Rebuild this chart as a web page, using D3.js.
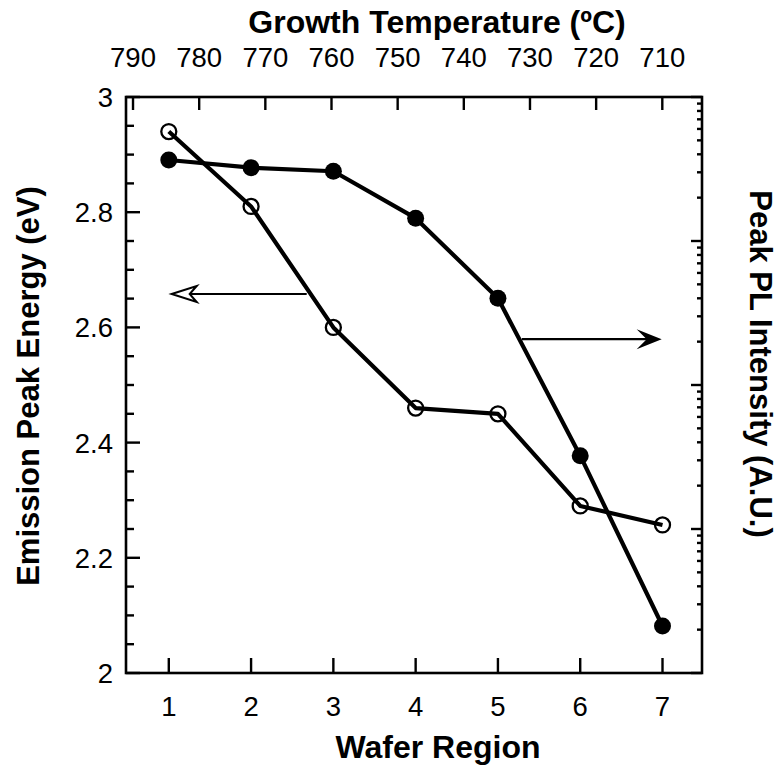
<!DOCTYPE html>
<html>
<head>
<meta charset="utf-8">
<script src="https://cdn.jsdelivr.net/npm/d3@7"></script>
<style>
  html, body { margin: 0; padding: 0; background: #fff; }
  text { font-family: "Liberation Sans", Arial, Helvetica, sans-serif; fill: #000; }
</style>
</head>
<body>
<svg id="chart" width="784" height="775"></svg>
<script>
// ---- data ----
const regions = [1, 2, 3, 4, 5, 6, 7];
const emissionEnergy = [2.94, 2.81, 2.60, 2.46, 2.45, 2.29, 2.257];     // eV (left axis, open circles)
const plIntensity = [3650, 3230, 3050, 1440, 400, 32.3, 2.12];          // A.U. (right axis, log, filled)
const regionTicks = [1, 2, 3, 4, 5, 6, 7];
const tempTicks = [790, 780, 770, 760, 750, 740, 730, 720, 710];
const energyTicks = [2, 2.2, 2.4, 2.6, 2.8, 3];
// annotation arrows in data units
const leftArrow = { from: 2.676, to: 1.035, energy: 2.658 };
const rightArrow = { from: 5.29, to: 6.99, intensity: 208 };

// ---- layout ----
const svg = d3.select("#chart");
const m = { left: 126, top: 97, right: 82, bottom: 102 };
const W = 784 - m.left - m.right;  // 576
const H = 775 - m.top - m.bottom;  // 576

const x = d3.scaleLinear().domain([0.48, 7.48]).range([m.left, m.left + W]);
const xTop = d3.scaleLinear().domain([791.06, 704.0]).range([m.left, m.left + W]);
const yL = d3.scaleLinear().domain([2, 3]).range([m.top + H, m.top]);
const yR = d3.scaleLog().domain([1, 10000]).range([m.top + H, m.top]);

const tickFont = 27.5;
const titleFont = 32;

const g = svg.append("g");

// ---- ticks ----
const tickStroke = 2.4;
// bottom
g.selectAll(".bt").data(regionTicks).enter().append("line")
  .attr("x1", d => x(d)).attr("x2", d => x(d))
  .attr("y1", m.top + H).attr("y2", m.top + H - 15)
  .attr("stroke", "#000").attr("stroke-width", tickStroke);
g.selectAll(".btl").data(regionTicks).enter().append("text")
  .attr("x", d => x(d)).attr("y", m.top + H + 43)
  .attr("text-anchor", "middle").attr("font-size", tickFont)
  .text(d => d);
// top
g.selectAll(".tt").data(tempTicks).enter().append("line")
  .attr("x1", d => xTop(d)).attr("x2", d => xTop(d))
  .attr("y1", m.top).attr("y2", m.top + 13)
  .attr("stroke", "#000").attr("stroke-width", tickStroke);
g.selectAll(".ttl").data(tempTicks).enter().append("text")
  .attr("x", d => xTop(d)).attr("y", m.top - 30)
  .attr("text-anchor", "middle").attr("font-size", tickFont)
  .text(d => d);
// left: minor every 0.05, major every 0.2
const leftMinor = d3.range(0, 21).map(i => 2 + i * 0.05);
g.selectAll(".lt").data(leftMinor).enter().append("line")
  .attr("x1", m.left).attr("x2", (d, i) => m.left + (i % 4 === 0 ? 14 : 8))
  .attr("y1", d => yL(d)).attr("y2", d => yL(d))
  .attr("stroke", "#000").attr("stroke-width", tickStroke);
g.selectAll(".ltl").data(energyTicks).enter().append("text")
  .attr("x", m.left - 13).attr("y", d => yL(d)).attr("dy", "0.36em")
  .attr("text-anchor", "end").attr("font-size", tickFont)
  .text(d => d3.format("~g")(d));
// right: log ticks
const rightTicks = [];
for (let e = 0; e < 4; e++) for (let k = 1; k <= 9; k++) rightTicks.push({ v: k * Math.pow(10, e), major: k === 1 });
rightTicks.push({ v: 10000, major: true });
g.selectAll(".rt").data(rightTicks).enter().append("line")
  .attr("x1", m.left + W).attr("x2", d => m.left + W - (d.major ? 11 : 5))
  .attr("y1", d => yR(d.v)).attr("y2", d => yR(d.v))
  .attr("stroke", "#000").attr("stroke-width", tickStroke);

// ---- frame ----
g.append("rect").attr("x", m.left).attr("y", m.top).attr("width", W).attr("height", H)
  .attr("fill", "none").attr("stroke", "#000").attr("stroke-width", 2.6);

// ---- data lines ----
const lineE = d3.line().x(d => x(d.r)).y(d => yL(d.v));
const lineI = d3.line().x(d => x(d.r)).y(d => yR(d.v));
const eData = regions.map((r, i) => ({ r, v: emissionEnergy[i] }));
const iData = regions.map((r, i) => ({ r, v: plIntensity[i] }));

g.append("path").datum(eData).attr("d", lineE)
  .attr("fill", "none").attr("stroke", "#000").attr("stroke-width", 4.2).attr("stroke-linejoin", "round");
g.append("path").datum(iData).attr("d", lineI)
  .attr("fill", "none").attr("stroke", "#000").attr("stroke-width", 4.2).attr("stroke-linejoin", "round");

g.selectAll(".oc").data(eData).enter().append("circle")
  .attr("cx", d => x(d.r)).attr("cy", d => yL(d.v)).attr("r", 7.5)
  .attr("fill", "none").attr("stroke", "#000").attr("stroke-width", 2.3);
g.selectAll(".fc").data(iData).enter().append("circle")
  .attr("cx", d => x(d.r)).attr("cy", d => yR(d.v)).attr("r", 8.5)
  .attr("fill", "#000");

// ---- arrows ----
{
  const ay = yL(leftArrow.energy), x0 = x(leftArrow.from), x1 = x(leftArrow.to);
  g.append("line").attr("x1", x0).attr("x2", x1 + 18).attr("y1", ay).attr("y2", ay)
    .attr("stroke", "#000").attr("stroke-width", 2.2);
  g.append("path")
    .attr("d", `M${x1},${ay} L${x1 + 25},${ay - 8} L${x1 + 18},${ay} L${x1 + 25},${ay + 8} Z`)
    .attr("fill", "#fff").attr("stroke", "#000").attr("stroke-width", 2).attr("stroke-linejoin", "miter");
}
{
  const ay = yR(rightArrow.intensity), x0 = x(rightArrow.from), x1 = x(rightArrow.to);
  g.append("line").attr("x1", x0).attr("x2", x1 - 10).attr("y1", ay).attr("y2", ay)
    .attr("stroke", "#000").attr("stroke-width", 2.2);
  g.append("path")
    .attr("d", `M${x1},${ay} L${x1 - 25},${ay - 10} L${x1 - 15},${ay} L${x1 - 25},${ay + 10} Z`)
    .attr("fill", "#000");
}

// ---- titles ----
svg.append("text").attr("x", 437).attr("y", 33).attr("text-anchor", "middle")
  .attr("font-size", titleFont).attr("font-weight", "bold").text("Growth Temperature (ºC)");
svg.append("text").attr("x", 438).attr("y", 758).attr("text-anchor", "middle")
  .attr("font-size", titleFont).attr("font-weight", "bold").text("Wafer Region");
svg.append("text").attr("transform", "translate(39,386) rotate(-90)").attr("text-anchor", "middle")
  .attr("font-size", 31).attr("font-weight", "bold").text("Emission Peak Energy (eV)");
svg.append("text").attr("transform", "translate(750,364) rotate(90)").attr("text-anchor", "middle")
  .attr("font-size", 31).attr("font-weight", "bold").text("Peak PL Intensity (A.U.)");
</script>
</body>
</html>
